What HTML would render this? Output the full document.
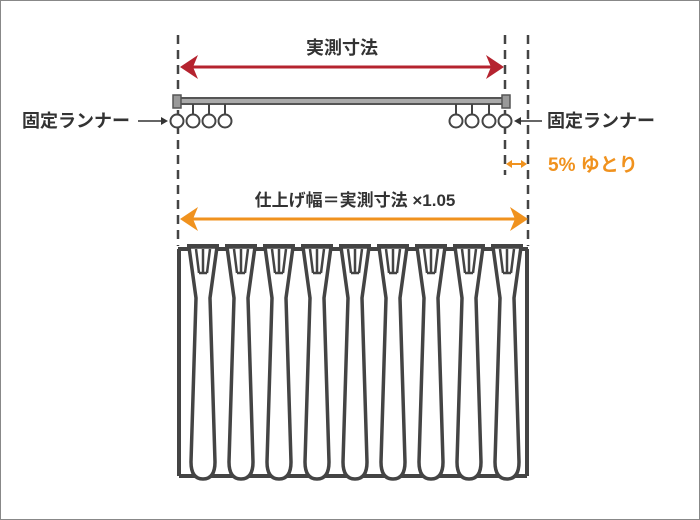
<!DOCTYPE html>
<html><head><meta charset="utf-8"><style>
html,body{margin:0;padding:0;background:#fff}
svg{display:block}
text{font-family:"Liberation Sans","Noto Sans CJK JP",sans-serif;font-weight:bold}
</style></head><body>
<svg width="700" height="520" viewBox="0 0 700 520" xmlns="http://www.w3.org/2000/svg">
<rect x="0.5" y="0.5" width="699" height="519" fill="#fff" stroke="#888" stroke-width="1"/>
<g stroke="#444" stroke-width="2.5" stroke-dasharray="9,6" fill="none">
<line x1="178" y1="35" x2="178" y2="246"/>
<line x1="505" y1="35" x2="505" y2="175"/>
<line x1="528" y1="35" x2="528" y2="246"/>
</g>
<text x="342" y="54" font-size="18" text-anchor="middle" fill="#333">実測寸法</text>
<line x1="190" y1="67" x2="493" y2="67" stroke="#b5232f" stroke-width="3"/>
<polygon points="180,67 198,55 193,67 198,79" fill="#b5232f"/>
<polygon points="504,67 486,55 491,67 486,79" fill="#b5232f"/>
<rect x="178" y="98" width="328" height="6" fill="#aaa" stroke="#555" stroke-width="2"/>
<rect x="173" y="95" width="8" height="13" fill="#999" stroke="#555" stroke-width="1.5"/>
<rect x="502" y="95" width="8" height="13" fill="#999" stroke="#555" stroke-width="1.5"/>
<g stroke="#444" stroke-width="2" fill="#fff">
<line x1="193" y1="104" x2="193" y2="115"/><line x1="209" y1="104" x2="209" y2="115"/><line x1="225" y1="104" x2="225" y2="115"/>
<line x1="456" y1="104" x2="456" y2="115"/><line x1="472" y1="104" x2="472" y2="115"/><line x1="489" y1="104" x2="489" y2="115"/>
<circle cx="177" cy="121" r="6.5"/><circle cx="193" cy="121" r="6.5"/><circle cx="209" cy="121" r="6.5"/><circle cx="225" cy="121" r="6.5"/>
<circle cx="456" cy="121" r="6.5"/><circle cx="472" cy="121" r="6.5"/><circle cx="489" cy="121" r="6.5"/><circle cx="505" cy="121" r="6.5"/>
</g>
<text x="22" y="127" font-size="18" fill="#333" font-weight="normal">固定ランナー</text>
<line x1="138" y1="121" x2="164" y2="121" stroke="#333" stroke-width="1.5"/>
<polygon points="168,121 161,117 161,125" fill="#333"/>
<text x="547" y="127" font-size="18" fill="#333" font-weight="normal">固定ランナー</text>
<line x1="518" y1="121" x2="542" y2="121" stroke="#333" stroke-width="1.5"/>
<polygon points="514,121 521,117 521,125" fill="#333"/>
<line x1="510" y1="164" x2="523" y2="164" stroke="#f0921e" stroke-width="2"/>
<polygon points="506,164 512,160 512,168" fill="#f0921e"/>
<polygon points="527,164 521,160 521,168" fill="#f0921e"/>
<text x="548" y="171" font-size="19" fill="#f0921e">5% ゆとり</text>
<text x="355" y="206" font-size="17" text-anchor="middle" fill="#333">仕上げ幅＝実測寸法 ×1.05</text>
<line x1="190" y1="219" x2="518" y2="219" stroke="#f0921e" stroke-width="3"/>
<polygon points="180,219 198,207 193,219 198,231" fill="#f0921e"/>
<polygon points="528,219 510,207 515,219 510,231" fill="#f0921e"/>
<g stroke="#444" stroke-width="4" fill="none" stroke-linejoin="round">
<line x1="178" y1="249" x2="528" y2="249"/>
<line x1="179" y1="249" x2="179" y2="476"/>
<line x1="527" y1="249" x2="527" y2="476"/>
<line x1="179" y1="476" x2="527" y2="476"/>
</g>
<g stroke="#444" stroke-width="3.5" fill="#fff" stroke-linejoin="round">
<path d="M189,247 L196,298 L191,462 Q191,479 203,479 Q215,479 215,462 L210,298 L217,247 Z"/>
<path d="M227,247 L234,298 L229,462 Q229,479 241,479 Q253,479 253,462 L248,298 L255,247 Z"/>
<path d="M265,247 L272,298 L267,462 Q267,479 279,479 Q291,479 291,462 L286,298 L293,247 Z"/>
<path d="M303,247 L310,298 L305,462 Q305,479 317,479 Q329,479 329,462 L324,298 L331,247 Z"/>
<path d="M341,247 L348,298 L343,462 Q343,479 355,479 Q367,479 367,462 L362,298 L369,247 Z"/>
<path d="M379,247 L386,298 L381,462 Q381,479 393,479 Q405,479 405,462 L400,298 L407,247 Z"/>
<path d="M417,247 L424,298 L419,462 Q419,479 431,479 Q443,479 443,462 L438,298 L445,247 Z"/>
<path d="M455,247 L462,298 L457,462 Q457,479 469,479 Q481,479 481,462 L476,298 L483,247 Z"/>
<path d="M493,247 L500,298 L495,462 Q495,479 507,479 Q519,479 519,462 L514,298 L521,247 Z"/>
</g>
<g stroke="#444" stroke-width="2.5" fill="none">
<path d="M196,249 L199,273 M203,249 L203,273 M210,249 L207,273 M199,273 L207,273"/>
<path d="M234,249 L237,273 M241,249 L241,273 M248,249 L245,273 M237,273 L245,273"/>
<path d="M272,249 L275,273 M279,249 L279,273 M286,249 L283,273 M275,273 L283,273"/>
<path d="M310,249 L313,273 M317,249 L317,273 M324,249 L321,273 M313,273 L321,273"/>
<path d="M348,249 L351,273 M355,249 L355,273 M362,249 L359,273 M351,273 L359,273"/>
<path d="M386,249 L389,273 M393,249 L393,273 M400,249 L397,273 M389,273 L397,273"/>
<path d="M424,249 L427,273 M431,249 L431,273 M438,249 L435,273 M427,273 L435,273"/>
<path d="M462,249 L465,273 M469,249 L469,273 M476,249 L473,273 M465,273 L473,273"/>
<path d="M500,249 L503,273 M507,249 L507,273 M514,249 L511,273 M503,273 L511,273"/>
</g>
<g stroke="#444" stroke-width="4">
<line x1="187" y1="246" x2="219" y2="246"/><line x1="225" y1="246" x2="257" y2="246"/><line x1="263" y1="246" x2="295" y2="246"/>
<line x1="301" y1="246" x2="333" y2="246"/><line x1="339" y1="246" x2="371" y2="246"/><line x1="377" y1="246" x2="409" y2="246"/>
<line x1="415" y1="246" x2="447" y2="246"/><line x1="453" y1="246" x2="485" y2="246"/><line x1="491" y1="246" x2="523" y2="246"/>
</g>
</svg>
</body></html>
